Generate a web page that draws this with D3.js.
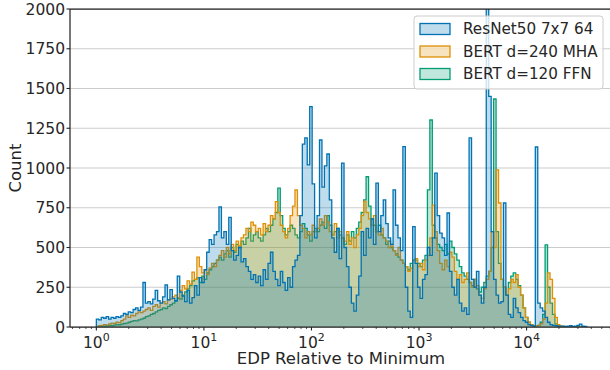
<!DOCTYPE html>
<html>
<head>
<meta charset="utf-8">
<script src="https://cdn.jsdelivr.net/npm/d3@7"></script>
<style>
  body { margin: 0; background: #fff; }
  svg { display: block; font-family: "DejaVu Sans", sans-serif; }
</style>
</head>
<body>
<div id="chart"></div>
<script>
// histogram counts, 200 log-spaced bins from 10^0 to 10^4.56
var binCount = 200;
var binLogMin = 0;
var binLogMax = 4.56;

var resnet = [
  50, 45, 60, 55, 65, 50, 60, 55, 65, 60,
  70, 85, 80, 95, 90, 110, 120, 105, 125, 280,
  150, 160, 145, 175, 230, 165, 150, 190, 265, 170,
  235, 180, 165, 320, 220, 195, 160, 230, 150, 185,
  260, 200, 310, 280, 360, 470, 550, 520, 580, 600,
  755, 560, 600, 520, 690, 480, 420, 450, 500, 410,
  430, 380, 350, 300, 330, 280, 320, 260, 360, 300,
  400, 470, 350, 300, 260, 350, 280, 230, 310, 250,
  380, 420, 450, 700, 1150, 1190, 1020, 1386, 900, 560,
  700, 1176, 880, 1013, 1088, 800, 560, 470, 620, 430,
  1031, 500, 380, 250, 150, 100, 200, 320, 600, 450,
  620, 560, 680, 520, 905, 600, 700, 800, 650, 560,
  520, 862, 640, 560, 480, 1134, 250, 100, 60, 631,
  400, 250, 180, 300, 330, 500, 450, 560, 968, 700,
  591, 560, 450, 717, 350, 250, 200, 300, 150, 100,
  120, 80, 1189, 300, 250, 350, 200, 150, 250, 2300,
  1450, 600, 300, 200, 150, 160, 780, 200, 80, 60,
  180, 120, 90, 60, 40, 30, 15, 10, 5, 1132,
  150, 120, 100, 60, 30, 15, 10, 8, 5, 5,
  5, 4, 6, 8, 3, 5, 10, 18, 6, 3
];

var bertMHA = [
  5, 8, 10, 15, 12, 20, 25, 22, 30, 28,
  40, 50, 70, 60, 75, 70, 85, 95, 90, 100,
  110, 120, 105, 130, 140, 125, 150, 160, 145, 170,
  175, 190, 200, 185, 230, 260, 240, 290, 270, 345,
  300, 440, 380, 340, 360, 330, 370, 400, 380, 420,
  450, 480, 440, 500, 460, 520, 480, 540, 510, 560,
  580, 620, 600, 660, 640, 600, 620, 580, 650, 600,
  640, 700, 680, 788, 720, 640, 600, 560, 620, 700,
  760, 862, 700, 640, 620, 560, 600, 580, 640, 600,
  620, 680, 640, 700, 660, 600, 580, 650, 560, 600,
  560, 540, 600, 520, 560, 500, 580, 620, 700, 790,
  720, 680, 640, 700, 600, 580, 620, 560, 540, 500,
  520, 480, 450, 500, 420, 400, 380, 350, 370, 420,
  430, 380, 400, 360, 420, 450, 560, 767, 600, 480,
  400, 360, 420, 380, 470, 440, 350, 300, 330, 280,
  300, 340, 280, 250, 300, 260, 200, 180, 240, 300,
  350, 600, 500, 988, 780, 300, 250, 200, 240, 300,
  280, 330, 250, 200, 120, 60, 30, 15, 8, 5,
  10, 20, 50, 150, 340, 300, 180, 60, 15, 5,
  3, 2, 0, 0, 0, 0, 0, 0, 0, 0
];

var bertFFN = [
  0, 2, 5, 5, 8, 10, 8, 12, 15, 14,
  18, 22, 25, 30, 35, 40, 38, 45, 50, 55,
  65, 70, 80, 85, 95, 105, 110, 120, 115, 130,
  140, 150, 165, 180, 175, 200, 220, 240, 260, 290,
  300, 310, 280, 320, 300, 340, 360, 380, 400, 420,
  440, 420, 460, 480, 440, 500, 470, 520, 500, 540,
  520, 560, 620, 540, 580, 600, 560, 540, 580, 620,
  600, 640, 680, 720, 874, 700, 620, 580, 600, 640,
  620, 580, 560, 600, 650, 620, 580, 540, 600, 620,
  600, 640, 660, 620, 700, 640, 580, 600, 620, 580,
  560, 520, 580, 540, 600, 560, 620, 660, 720, 800,
  945, 760, 680, 640, 600, 640, 580, 560, 520, 540,
  500, 480, 460, 440, 420, 400, 380, 360, 400, 420,
  420, 400, 380, 420, 450, 862, 1302, 640, 560, 520,
  500, 480, 520, 460, 540, 500, 460, 420, 380, 340,
  320, 300, 280, 260, 300, 240, 220, 250, 280, 320,
  350, 500, 1434, 600, 400, 300, 250, 200, 280, 320,
  340, 300, 260, 200, 120, 60, 30, 15, 8, 5,
  10, 30, 80, 516, 250, 150, 80, 20, 8, 4,
  2, 1, 0, 0, 0, 0, 0, 0, 0, 0
];

var seriesNames = ["ResNet50 7x7 64", "BERT d=240 MHA", "BERT d=120 FFN"];
var seriesColors = ["#0173b2", "#de8f05", "#029e73"];
var yTicks = [0, 250, 500, 750, 1000, 1250, 1500, 1750, 2000];
var xTickExps = [0, 1, 2, 3, 4];

var width = 610, height = 370;
var plotLeft = 70, plotRight = 611, plotTop = 9, plotBottom = 327;

var svg = d3.select("#chart").append("svg")
  .attr("width", width).attr("height", height);

var x = d3.scaleLog().domain([Math.pow(10, -0.245), Math.pow(10, 4.785)]).range([plotLeft, plotRight]);
var y = d3.scaleLinear().domain([0, 2000]).range([plotBottom, plotTop]);

// bin edges
var edges = d3.range(binCount + 1).map(function (i) {
  return Math.pow(10, binLogMin + (binLogMax - binLogMin) * i / binCount);
});

// grid lines
svg.append("g").selectAll("line").data(yTicks).enter().append("line")
  .attr("x1", plotLeft).attr("x2", plotRight)
  .attr("y1", function (d) { return y(d); }).attr("y2", function (d) { return y(d); })
  .attr("stroke", "#cccccc").attr("stroke-width", 1.1);

svg.append("clipPath").attr("id", "plotclip").append("rect")
  .attr("x", plotLeft).attr("y", plotTop).attr("width", plotRight - plotLeft).attr("height", plotBottom - plotTop);

var plot = svg.append("g").attr("clip-path", "url(#plotclip)");

function stepPoints(counts) {
  var pts = [[edges[0], 0]];
  counts.forEach(function (c, i) { pts.push([edges[i], c]); });
  pts.push([edges[binCount], counts[binCount - 1]]);
  pts.push([edges[binCount], 0]);
  return pts;
}

var area = d3.area()
  .x(function (d) { return x(d[0]); })
  .y0(y(0))
  .y1(function (d) { return y(d[1]); })
  .curve(d3.curveStepAfter);

var line = d3.line()
  .x(function (d) { return x(d[0]); })
  .y(function (d) { return y(d[1]); })
  .curve(d3.curveStepAfter);

var allSeries = [resnet, bertMHA, bertFFN];
// draw last hue first so the first one ends on top
[2, 1, 0].forEach(function (k) {
  var pts = stepPoints(allSeries[k]);
  plot.append("path").attr("d", area(pts))
    .attr("fill", seriesColors[k]).attr("fill-opacity", 0.25);
  plot.append("path").attr("d", line(pts))
    .attr("fill", "none").attr("stroke", seriesColors[k])
    .attr("stroke-width", 1.3).attr("stroke-linejoin", "miter");
});

// spines
var ink = "#262626";
svg.append("line").attr("x1", plotLeft).attr("x2", plotLeft).attr("y1", plotTop).attr("y2", plotBottom)
  .attr("stroke", ink).attr("stroke-width", 1.25);
svg.append("line").attr("x1", plotLeft).attr("x2", plotRight).attr("y1", plotBottom).attr("y2", plotBottom)
  .attr("stroke", ink).attr("stroke-width", 1.25);
svg.append("line").attr("x1", plotLeft).attr("x2", plotRight).attr("y1", plotTop).attr("y2", plotTop)
  .attr("stroke", ink).attr("stroke-width", 1.25);

// y ticks
var yg = svg.append("g");
yTicks.forEach(function (t) {
  yg.append("line").attr("x1", plotLeft - 3.5).attr("x2", plotLeft)
    .attr("y1", y(t)).attr("y2", y(t)).attr("stroke", ink).attr("stroke-width", 1.1);
  yg.append("text").attr("x", plotLeft - 5).attr("y", y(t)).attr("dy", "0.36em")
    .attr("text-anchor", "end").attr("font-size", 15.5).attr("fill", ink).text(t);
});

// x minor ticks
var xg = svg.append("g");
var minors = [];
for (var e = -1; e <= 4; e++) {
  for (var m = 2; m <= 9; m++) {
    var v = m * Math.pow(10, e);
    if (x(v) >= plotLeft && x(v) <= plotRight) minors.push(v);
  }
}
minors.forEach(function (v) {
  xg.append("line").attr("x1", x(v)).attr("x2", x(v)).attr("y1", plotBottom).attr("y2", plotBottom + 2)
    .attr("stroke", ink).attr("stroke-width", 0.8);
});
xTickExps.forEach(function (p) {
  var xv = x(Math.pow(10, p));
  xg.append("line").attr("x1", xv).attr("x2", xv).attr("y1", plotBottom).attr("y2", plotBottom + 3.5)
    .attr("stroke", ink).attr("stroke-width", 1.1);
  var t = xg.append("text").attr("x", xv).attr("y", 348)
    .attr("text-anchor", "middle").attr("font-size", 15.5).attr("fill", ink);
  t.append("tspan").text("10");
  t.append("tspan").attr("dy", -7).attr("font-size", 11).text(p);
});

// axis labels
svg.append("text").attr("x", 341).attr("y", 364)
  .attr("text-anchor", "middle").attr("font-size", 16.5).attr("fill", ink)
  .text("EDP Relative to Minimum");
svg.append("text").attr("transform", "translate(21,168) rotate(-90)")
  .attr("text-anchor", "middle").attr("font-size", 16.5).attr("fill", ink)
  .text("Count");

// legend
var lg = svg.append("g").attr("transform", "translate(414,16)");
lg.append("rect").attr("width", 189).attr("height", 73).attr("rx", 3)
  .attr("fill", "#ffffff").attr("fill-opacity", 0.8)
  .attr("stroke", "#cccccc").attr("stroke-width", 1);
seriesNames.forEach(function (name, i) {
  var row = lg.append("g").attr("transform", "translate(0," + (13 + i * 22.5) + ")");
  row.append("rect").attr("x", 6).attr("y", -5.5).attr("width", 30).attr("height", 11)
    .attr("fill", seriesColors[i]).attr("fill-opacity", 0.25)
    .attr("stroke", seriesColors[i]).attr("stroke-width", 1.3);
  row.append("text").attr("x", 49).attr("y", 0).attr("dy", "0.36em")
    .attr("font-size", 15.2).attr("fill", ink).text(name);
});
</script>
</body>
</html>
